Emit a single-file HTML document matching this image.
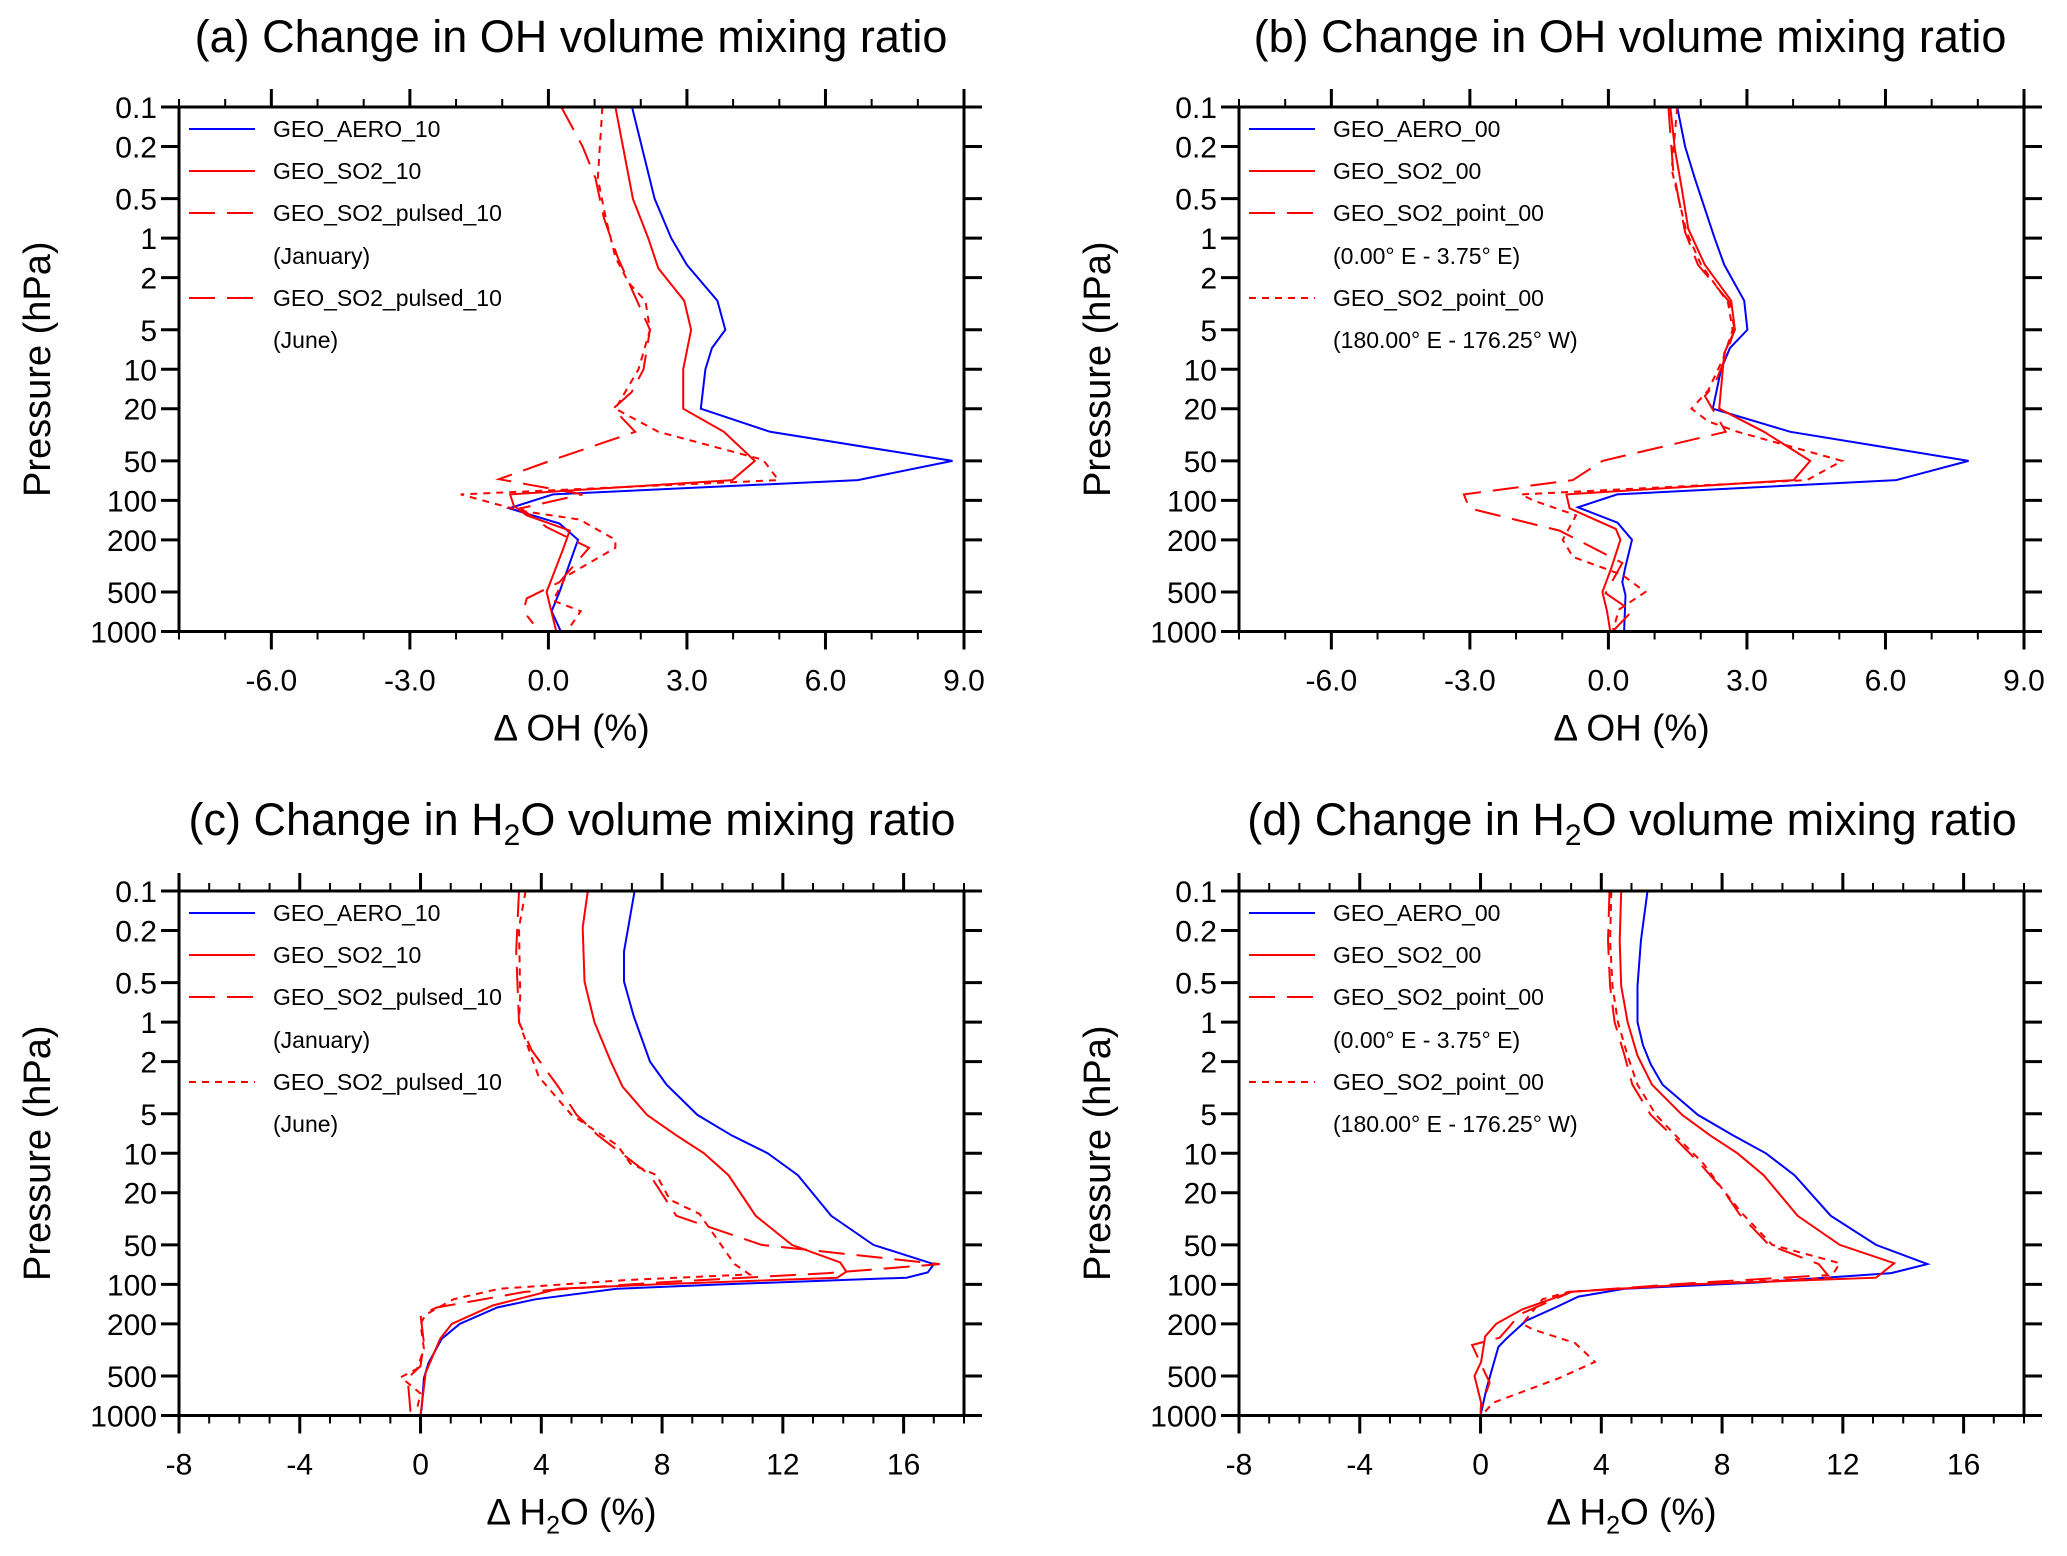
<!DOCTYPE html>
<html><head><meta charset="utf-8"><style>
html,body{margin:0;padding:0;background:#fff}
svg{display:block;font-family:"Liberation Sans",sans-serif}
</style></head><body>
<svg id="fig" width="2067" height="1556" viewBox="0 0 2067 1556" xmlns="http://www.w3.org/2000/svg"></svg>
<script>
// ---- data ----
const pressureTicks = [0.1,0.2,0.5,1,2,5,10,20,50,100,200,500,1000];
const pressureTickLabels = ["0.1","0.2","0.5","1","2","5","10","20","50","100","200","500","1000"];
const ohTicks = [-6,-3,0,3,6,9];
const ohTickLabels = ["-6.0","-3.0","0.0","3.0","6.0","9.0"];
const h2oTicks = [-8,-4,0,4,8,12,16];
const h2oTickLabels = ["-8","-4","0","4","8","12","16"];

// panel a
const aAeroP = [0.1,0.5,1,1.6,3,5,6.9,10,20,30,50,70,90,115,150,200,500,700,1000];
const aAeroV = [1.81,2.3,2.66,3.0,3.66,3.83,3.54,3.4,3.3,4.8,8.75,6.7,0.1,-0.85,0.24,0.64,0.24,0.07,0.27];
const aSo2P = [0.1,0.5,1,1.7,3,5,10,20,30,50,70,90,110,130,170,240,500,1000];
const aSo2V = [1.45,1.83,2.16,2.38,2.94,3.09,2.92,2.92,3.8,4.47,3.98,-0.83,-0.75,-0.47,0.46,0.31,-0.04,0.17];
const aJanP = [0.1,0.2,0.35,0.7,1.4,2.8,5,10,15,20,30,49,69,90,115,160,230,420,560,700,870];
const aJanV = [0.28,0.74,1.02,1.2,1.5,1.88,2.2,2.06,1.8,1.4,1.88,0.1,-1.07,0.74,-0.6,-0.04,0.88,0.24,-0.47,-0.54,-0.33];
const aJunP = [0.1,0.35,0.7,1.4,2.2,3,5,10,20,30,49,70,90,120,140,200,230,380,580,700,1000];
const aJunV = [1.17,1.07,1.24,1.45,1.74,2.1,2.2,1.95,1.45,2.38,4.65,4.98,-1.9,-0.6,0.67,1.45,1.45,0.38,0.1,0.7,0.4];
// panel b
const bAeroP = [0.1,0.2,0.35,1,1.6,3,5,6.9,10,20,30,50,70,90,113,148,200,320,420,530,1000];
const bAeroV = [1.49,1.66,1.87,2.3,2.51,2.94,3.01,2.63,2.44,2.26,3.94,7.8,6.23,0.19,-0.66,0.2,0.51,0.37,0.3,0.37,0.34];
const bSo2P = [0.1,0.21,0.42,0.85,1.6,3,5,7.5,20,30,50,70,90,115,165,200,330,500,700,1000];
const bSo2V = [1.34,1.44,1.59,1.73,2.09,2.66,2.74,2.51,2.4,3.37,4.37,4.01,-0.91,-0.84,0.16,0.26,0.06,-0.13,-0.03,0.04];
const bPt0P = [0.1,0.3,0.9,1.6,3.1,5,8.9,13,16,30,50,70,90,115,170,300,510,700,1000];
const bPt0V = [1.3,1.4,1.66,1.94,2.63,2.73,2.49,2.3,2.09,2.54,-0.13,-0.77,-3.13,-3.01,-1.06,0.3,-0.06,0.51,0.09];
const bPt180P = [0.1,0.3,0.9,1.6,3.1,5,8.2,14.5,20,25,30,50,70,90,100,130,200,270,370,500,680,1000];
const bPt180V = [1.49,1.37,1.69,2.01,2.59,2.69,2.49,2.16,1.8,2.16,2.8,5.06,4.3,-1.89,-1.63,-0.7,-0.99,-0.77,0.3,0.8,0.23,0.09];
// panel c
const cAeroP = [0.1,0.29,0.49,0.9,2,3,5.1,7.3,10,14.7,30,50,70,81,89,100,108,130,150,200,260,400,520,880,1000];
const cAeroV = [7.09,6.74,6.74,7.06,7.6,8.15,9.17,10.3,11.5,12.5,13.6,15.0,17.0,16.8,16.1,9.99,6.5,3.8,2.54,1.3,0.7,0.26,0.11,0.04,0];
const cSo2P = [0.1,0.19,0.49,1,2,3.1,5.1,7.3,10,14.7,30,50,68,80,89,100,108,145,200,260,470,1000];
const cSo2V = [5.54,5.37,5.43,5.76,6.3,6.69,7.5,8.47,9.39,10.2,11.1,12.3,13.9,14.1,13.8,7.8,4.56,2.39,1.04,0.65,0.17,0];
const cJanP = [0.1,0.29,1,1.65,3.1,5.1,7.3,10.3,14.7,30,50,70,82,97,114,150,170,280,420,520,950];
const cJanV = [3.26,3.17,3.26,3.69,4.56,5.17,5.87,6.73,7.6,8.47,11.3,17.2,13.5,7.8,3.48,0.54,0,0.11,0,-0.43,-0.33];
const cJunP = [0.1,0.19,0.63,1,2.6,5.1,8.7,12,14.7,22.6,29,70,84,93,108,130,170,200,310,440,510,680,880];
const cJunV = [3.48,3.26,3.3,3.26,3.91,5.0,6.52,6.95,7.82,8.26,9.24,10.4,10.9,6.73,2.61,1.09,0.17,0,0.11,-0.11,-0.65,0,-0.11];
// panel d
const dAeroP = [0.1,0.24,0.53,1,1.5,2.1,3,5.1,7.3,10,14.7,30,50,70,82,97,108,124,150,190,260,300,620,1000];
const dAeroV = [5.53,5.31,5.2,5.2,5.38,5.64,6.03,7.2,8.36,9.45,10.4,11.6,13.1,14.8,13.6,9.1,4.77,3.24,2.48,1.5,0.85,0.59,0.2,0];
const dSo2P = [0.1,0.24,0.53,1,1.8,3,5.1,7.3,10,14.7,30,50,69,89,100,114,155,200,250,390,500,800,1000];
const dSo2V = [4.66,4.61,4.66,4.87,5.2,5.68,6.68,7.6,8.51,9.38,10.5,11.9,13.7,13.1,6.94,3.02,1.39,0.52,0.15,0.02,-0.2,0.02,0];
const dPt0P = [0.1,0.24,0.53,1,1.8,3,5.1,8,12,19,29,50,70,85,98,114,170,210,255,290,400,560,900];
const dPt0V = [4.27,4.22,4.29,4.44,4.77,5.03,5.64,6.51,7.27,8.03,8.57,9.55,11.2,11.5,6.94,3.02,1.28,0.96,0.63,-0.28,0,0.3,0];
const dPt180P = [0.1,0.24,0.53,1,1.8,3,5.1,8,12,19,29,50,69,89,100,114,130,200,220,280,390,520,800,1000];
const dPt180V = [4.33,4.29,4.37,4.55,4.87,5.2,5.81,6.62,7.38,8.03,8.68,9.66,11.9,11.6,6.94,2.92,2.05,1.39,1.72,3.13,3.79,2.59,0.41,0.04];

// ---- drawing ----
const NS = "http://www.w3.org/2000/svg";
const svg = document.getElementById("fig");
function mk(tag, attrs, parent){ const e=document.createElementNS(NS,tag); for(const k in attrs) e.setAttribute(k,attrs[k]); (parent||svg).appendChild(e); return e; }
const BLUE="#0000ff", RED="#ff0000";
const styles = {solid:"", dash:"26 12", dot:"7 6"};

function panel(cfg){
  const g = mk("g",{});
  
  
  const L=cfg.L,T=cfg.T,W=785,H=524.5,R=L+W,B=T+H;
  const xs = v => L + (v-cfg.xmin)/(cfg.xmax-cfg.xmin)*W;
  const ys = p => T + (Math.log10(p)+1)/4*H;
  const t = mk("text",{x:cfg.tx,y:cfg.ty,"font-size":45,"text-anchor":"middle",fill:"#000"},g);
  
  
  if(cfg.h2o){
    t.appendChild(document.createTextNode(cfg.label+" Change in H"));
    const s=mk("tspan",{"font-size":30,dy:10},t); s.textContent="2";
    const s2=mk("tspan",{dy:-10},t); s2.textContent="O volume mixing ratio";
  } else t.textContent = cfg.label+" Change in OH volume mixing ratio";
  const clip = "clip-"+cfg.name;
  const cp = mk("clipPath",{id:clip},g); mk("rect",{x:L,y:T,width:W,height:H},cp);
  cfg.series.forEach(s=>{
    const pts = s.p.map((p,i)=>xs(s.v[i]).toFixed(1)+","+ys(p).toFixed(1)).join(" ");
    const pl = mk("polyline",{points:pts,fill:"none",stroke:s.c,"stroke-width":2,"stroke-dasharray":styles[s.d],"clip-path":`url(#${clip})`},g);
    
    
  });
  const fr = mk("rect",{x:L,y:T,width:W,height:H,fill:"none",stroke:"#000","stroke-width":3},g);
  
  
  pressureTicks.forEach((p,i)=>{
    const y=ys(p);
    mk("line",{x1:L-18,x2:L,y1:y,y2:y,stroke:"#000","stroke-width":3},g);
    mk("line",{x1:R,x2:R+18,y1:y,y2:y,stroke:"#000","stroke-width":3},g);
    const tl = mk("text",{x:L-22,y:y+11,"font-size":30,"text-anchor":"end"},g);
    
    
    tl.textContent = pressureTickLabels[i];
  });
  for(let v=Math.ceil(cfg.xmin/cfg.minor)*cfg.minor; v<=cfg.xmax+1e-9; v+=cfg.minor){
    const x=xs(v);
    mk("line",{x1:x,x2:x,y1:B,y2:B+8,stroke:"#000","stroke-width":2},g);
    mk("line",{x1:x,x2:x,y1:T-8,y2:T,stroke:"#000","stroke-width":2},g);
  }
  cfg.ticks.forEach((v,i)=>{
    const x=xs(v);
    mk("line",{x1:x,x2:x,y1:B,y2:B+18,stroke:"#000","stroke-width":3},g);
    mk("line",{x1:x,x2:x,y1:T-18,y2:T,stroke:"#000","stroke-width":3},g);
    const tl = mk("text",{x:x,y:B+59,"font-size":30,"text-anchor":"middle"},g);
    
    
    tl.textContent = cfg.tickLabels[i];
  });
  const xt = mk("text",{x:L+W/2,y:B+109,"font-size":37,"text-anchor":"middle"},g);
  
  
  if(cfg.h2o){
    xt.appendChild(document.createTextNode("Δ H"));
    const s=mk("tspan",{"font-size":25,dy:9},xt); s.textContent="2";
    const s2=mk("tspan",{dy:-9},xt); s2.textContent="O (%)";
  } else xt.textContent="Δ OH (%)";
  const yt = mk("text",{x:0,y:0,"font-size":38,"text-anchor":"middle",transform:`translate(${L-129},${T+H/2}) rotate(-90)`},g);
  
  
  yt.textContent="Pressure (hPa)";
  const rows=[129,171,213,256,298,340];
  cfg.legend.forEach((e,i)=>{
    const y=rows[i]+T-107;
    if(e.c){
      const ll = mk("line",{x1:L+10,x2:L+76,y1:y,y2:y,stroke:e.c,"stroke-width":2,"stroke-dasharray":styles[e.d]},g);
      
      
    }
    const lt = mk("text",{x:L+94,y:y+8,"font-size":23},g);
    
    
    lt.textContent = e.t;
  });
}

const legA = [{t:"GEO_AERO_10",c:BLUE,d:"solid"},{t:"GEO_SO2_10",c:RED,d:"solid"},{t:"GEO_SO2_pulsed_10",c:RED,d:"dash"},{t:"(January)"},{t:"GEO_SO2_pulsed_10",c:RED,d:"dash"},{t:"(June)"}];
const legC = [{t:"GEO_AERO_10",c:BLUE,d:"solid"},{t:"GEO_SO2_10",c:RED,d:"solid"},{t:"GEO_SO2_pulsed_10",c:RED,d:"dash"},{t:"(January)"},{t:"GEO_SO2_pulsed_10",c:RED,d:"dot"},{t:"(June)"}];
const legB = [{t:"GEO_AERO_00",c:BLUE,d:"solid"},{t:"GEO_SO2_00",c:RED,d:"solid"},{t:"GEO_SO2_point_00",c:RED,d:"dash"},{t:"(0.00° E - 3.75° E)"},{t:"GEO_SO2_point_00",c:RED,d:"dot"},{t:"(180.00° E - 176.25° W)"}];

panel({name:"panel-a",label:"(a)",L:179,T:107,tx:571,ty:52,xmin:-8,xmax:9,minor:1,ticks:ohTicks,tickLabels:ohTickLabels,legend:legA,
 series:[{id:"a-geo-aero-10",p:aAeroP,v:aAeroV,c:BLUE,d:"solid"},{id:"a-geo-so2-10",p:aSo2P,v:aSo2V,c:RED,d:"solid"},{id:"a-pulsed-january",p:aJanP,v:aJanV,c:RED,d:"dash"},{id:"a-pulsed-june",p:aJunP,v:aJunV,c:RED,d:"dot"}]});
panel({name:"panel-b",label:"(b)",L:1239,T:107,tx:1630,ty:52,xmin:-8,xmax:9,minor:1,ticks:ohTicks,tickLabels:ohTickLabels,legend:legB,
 series:[{id:"b-geo-aero-00",p:bAeroP,v:bAeroV,c:BLUE,d:"solid"},{id:"b-geo-so2-00",p:bSo2P,v:bSo2V,c:RED,d:"solid"},{id:"b-point-0e",p:bPt0P,v:bPt0V,c:RED,d:"dash"},{id:"b-point-180e",p:bPt180P,v:bPt180V,c:RED,d:"dot"}]});
panel({name:"panel-c",label:"(c)",h2o:true,L:179,T:891,tx:572,ty:835,xmin:-8,xmax:18,minor:1,ticks:h2oTicks,tickLabels:h2oTickLabels,legend:legC,
 series:[{id:"c-geo-aero-10",p:cAeroP,v:cAeroV,c:BLUE,d:"solid"},{id:"c-geo-so2-10",p:cSo2P,v:cSo2V,c:RED,d:"solid"},{id:"c-pulsed-january",p:cJanP,v:cJanV,c:RED,d:"dash"},{id:"c-pulsed-june",p:cJunP,v:cJunV,c:RED,d:"dot"}]});
panel({name:"panel-d",label:"(d)",h2o:true,L:1239,T:891,tx:1632,ty:835,xmin:-8,xmax:18,minor:1,ticks:h2oTicks,tickLabels:h2oTickLabels,legend:legB,
 series:[{id:"d-geo-aero-00",p:dAeroP,v:dAeroV,c:BLUE,d:"solid"},{id:"d-geo-so2-00",p:dSo2P,v:dSo2V,c:RED,d:"solid"},{id:"d-point-0e",p:dPt0P,v:dPt0V,c:RED,d:"dash"},{id:"d-point-180e",p:dPt180P,v:dPt180V,c:RED,d:"dot"}]});
</script>
</body></html>
